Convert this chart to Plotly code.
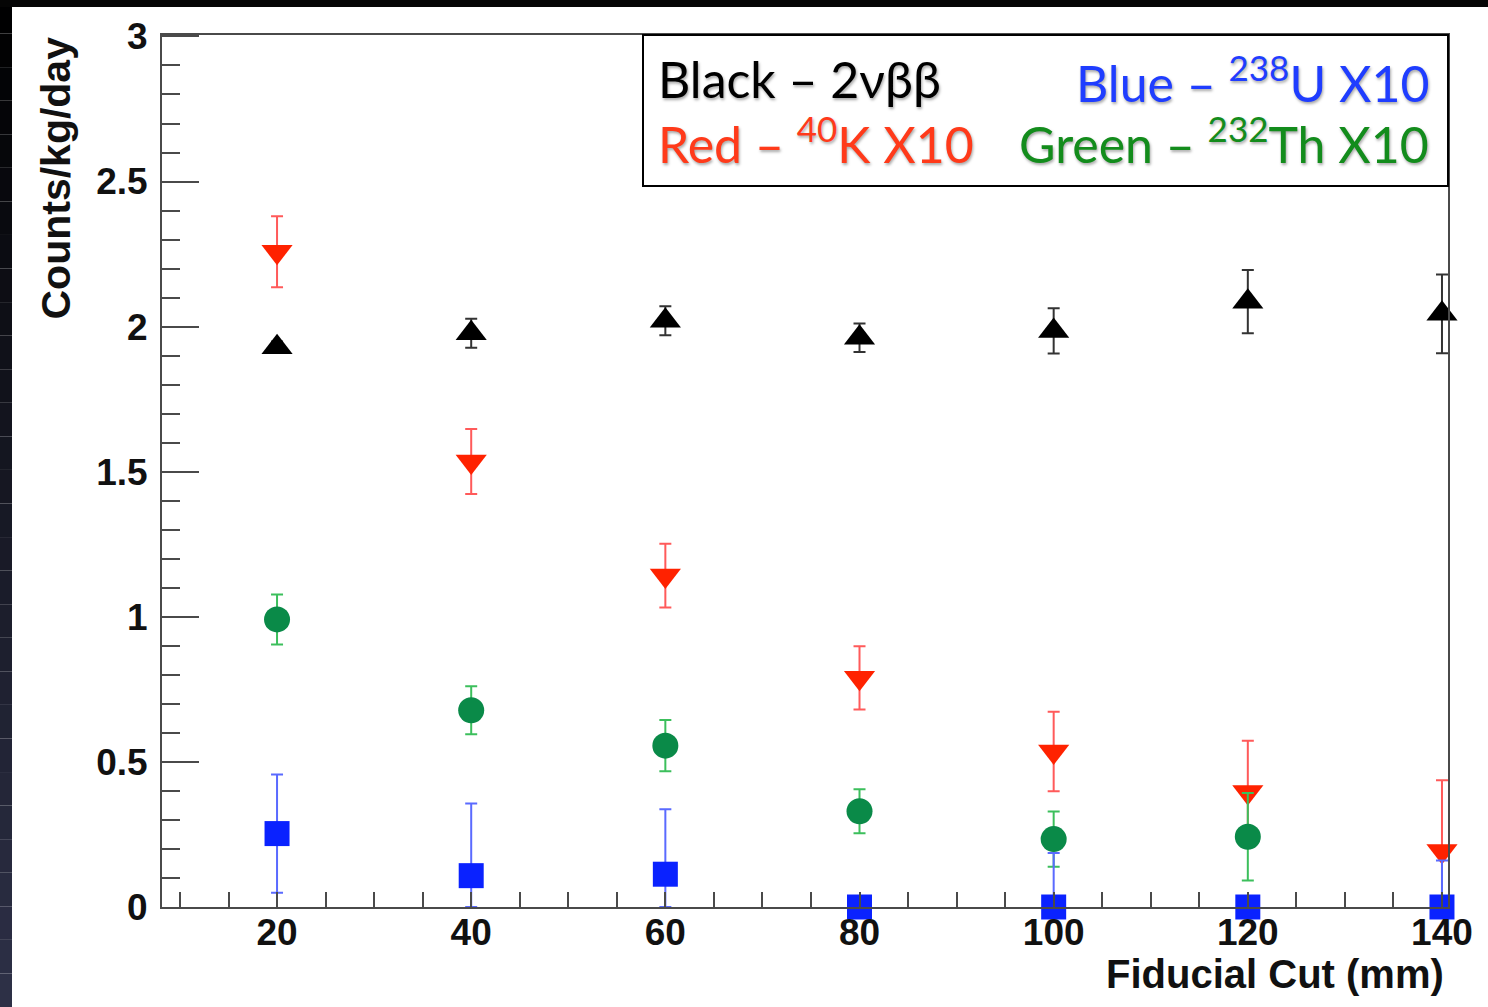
import plotly.graph_objects as go

# ---------------- data ----------------
x_cut = [20, 40, 60, 80, 100, 120, 140]

black_y = [1.929, 1.977, 2.020, 1.962, 1.985, 2.086, 2.044]
black_err = [0.020, 0.050, 0.050, 0.049, 0.078, 0.109, 0.136]

red_y = [2.258, 1.535, 1.142, 0.790, 0.536, 0.396, 0.193]
red_err = [0.122, 0.112, 0.110, 0.109, 0.137, 0.177, 0.244]

green_x = [20, 40, 60, 80, 100, 120]
green_y = [0.991, 0.678, 0.556, 0.330, 0.234, 0.242]
green_err = [0.086, 0.083, 0.088, 0.076, 0.095, 0.151]

blue_y = [0.253, 0.108, 0.113, 0.0, 0.0, 0.0, 0.0]
blue_err = [0.204, 0.249, 0.224, 0.0, 0.186, 0.0, 0.160]

x_title = "Fiducial Cut (mm)"
y_title = "Counts/kg/day"
legend_rows = [
    ("Black – 2νββ", "#000000", "left"),
    ("Blue – <sup>238</sup>U X10", "#1f3dff", "right"),
    ("Red – <sup>40</sup>K X10", "#ff3a1a", "left"),
    ("Green – <sup>232</sup>Th X10", "#138c1c", "right"),
]

# ---------------- layout geometry ----------------
W, H = 1488, 1007
L, R, T, B = 162, 40, 35, 100
PW, PH = W - L - R, H - T - B


def px2x(px):
    return (px - L) / PW


def py2y(py):
    return (H - B - py) / PH


def clip_minus(vals, errs):
    return [min(v, e) for v, e in zip(vals, errs)]


fig = go.Figure()


def add_series(xs, ys, errs, symbol, size, color, ecolor):
    fig.add_trace(go.Scatter(
        x=xs, y=ys, mode="markers", cliponaxis=False, showlegend=False,
        marker=dict(symbol=symbol, size=size, color=color, line=dict(width=0)),
        error_y=dict(type="data", symmetric=False, array=errs,
                     arrayminus=clip_minus(ys, errs),
                     color=ecolor, thickness=2, width=6),
    ))


add_series(x_cut, black_y, black_err, "triangle-up", 27, "#000000", "#333333")
add_series(x_cut, red_y, red_err, "triangle-down", 27, "#ff2200", "#ff5a5a")
add_series(green_x, green_y, green_err, "circle", 26, "#0a8a48", "#3cbf5c")
add_series(x_cut, blue_y, blue_err, "square", 25, "#0a22ff", "#5a6aff")

axis_col = "#4a4a4a"
tick_font = dict(family="Liberation Sans, Arial, sans-serif", size=37,
                 color="#111111", weight="bold")

fig.update_xaxes(
    range=[8.15, 140.62], showgrid=False, zeroline=False,
    showline=True, linecolor=axis_col, linewidth=2, mirror=True,
    tickmode="array", tickvals=[20, 40, 60, 80, 100, 120, 140],
    ticks="inside", ticklen=15, tickwidth=2, tickcolor=axis_col,
    minor=dict(dtick=5, tick0=0, ticks="inside", ticklen=15, tickwidth=2,
               tickcolor=axis_col),
    tickfont=tick_font, ticklabelstandoff=-8,
)
fig.update_yaxes(
    range=[0, 3.005], showgrid=False, zeroline=False,
    showline=True, linecolor=axis_col, linewidth=2, mirror=True,
    tickmode="array", tickvals=[0, 0.5, 1, 1.5, 2, 2.5, 3],
    ticktext=["0", "0.5", "1", "1.5", "2", "2.5", "3"],
    ticks="inside", ticklen=37, tickwidth=2, tickcolor=axis_col,
    minor=dict(dtick=0.1, tick0=0, ticks="inside", ticklen=18, tickwidth=2,
               tickcolor=axis_col),
    tickfont=tick_font, ticklabelstandoff=5,
)

shapes = []
# dark frame (left gradient strip + top strip)
n_seg = 30
c_top = (0, 0, 0)
c_bot = (46, 49, 72)
for i in range(n_seg):
    y0p = H * i / n_seg
    y1p = H * (i + 1) / n_seg
    f = (i + 0.5) / n_seg
    c = tuple(int(a + (b - a) * f) for a, b in zip(c_top, c_bot))
    shapes.append(dict(type="rect", xref="paper", yref="paper", layer="below",
                       x0=px2x(0), x1=px2x(12), y0=py2y(y1p), y1=py2y(y0p),
                       fillcolor="rgb(%d,%d,%d)" % c, line=dict(width=0)))
shapes.append(dict(type="rect", xref="paper", yref="paper", layer="below",
                   x0=px2x(0), x1=px2x(W), y0=py2y(7), y1=py2y(0),
                   fillcolor="#050505", line=dict(width=0)))
# legend box
shapes.append(dict(type="rect", xref="paper", yref="paper", layer="above",
                   x0=px2x(643), x1=px2x(1448), y0=py2y(186), y1=py2y(35),
                   fillcolor="white", line=dict(color="#000000", width=2)))

annotations = []
row_y = [79, 140]
for i, (txt, col, side) in enumerate(legend_rows):
    ry = row_y[i // 2]
    annotations.append(dict(
        xref="paper", yref="paper", showarrow=False,
        x=px2x(656 if side == "left" else 1431), y=py2y(ry),
        xanchor=side, yanchor="middle", text=txt,
        font=dict(family="Lato, Open Sans, sans-serif", size=50, color=col,
                  shadow="1px 2px 3px rgba(0,0,0,0.35)"),
    ))
annotations.append(dict(
    xref="paper", yref="paper", showarrow=False,
    x=px2x(1446), y=py2y(974), xanchor="right", yanchor="middle",
    text=x_title,
    font=dict(family="Liberation Sans, Arial, sans-serif", size=40,
              color="#111111", weight="bold"),
))
annotations.append(dict(
    xref="paper", yref="paper", showarrow=False, textangle=-90,
    x=px2x(55), y=py2y(34), xanchor="center", yanchor="top",
    text=y_title,
    font=dict(family="Liberation Sans, Arial, sans-serif", size=41,
              color="#111111", weight="bold"),
))

fig.update_layout(
    width=W, height=H, autosize=False,
    margin=dict(l=L, r=R, t=T, b=B, pad=0),
    paper_bgcolor="white", plot_bgcolor="white",
    shapes=shapes, annotations=annotations, showlegend=False,
)

fig.write_html("out.html")
